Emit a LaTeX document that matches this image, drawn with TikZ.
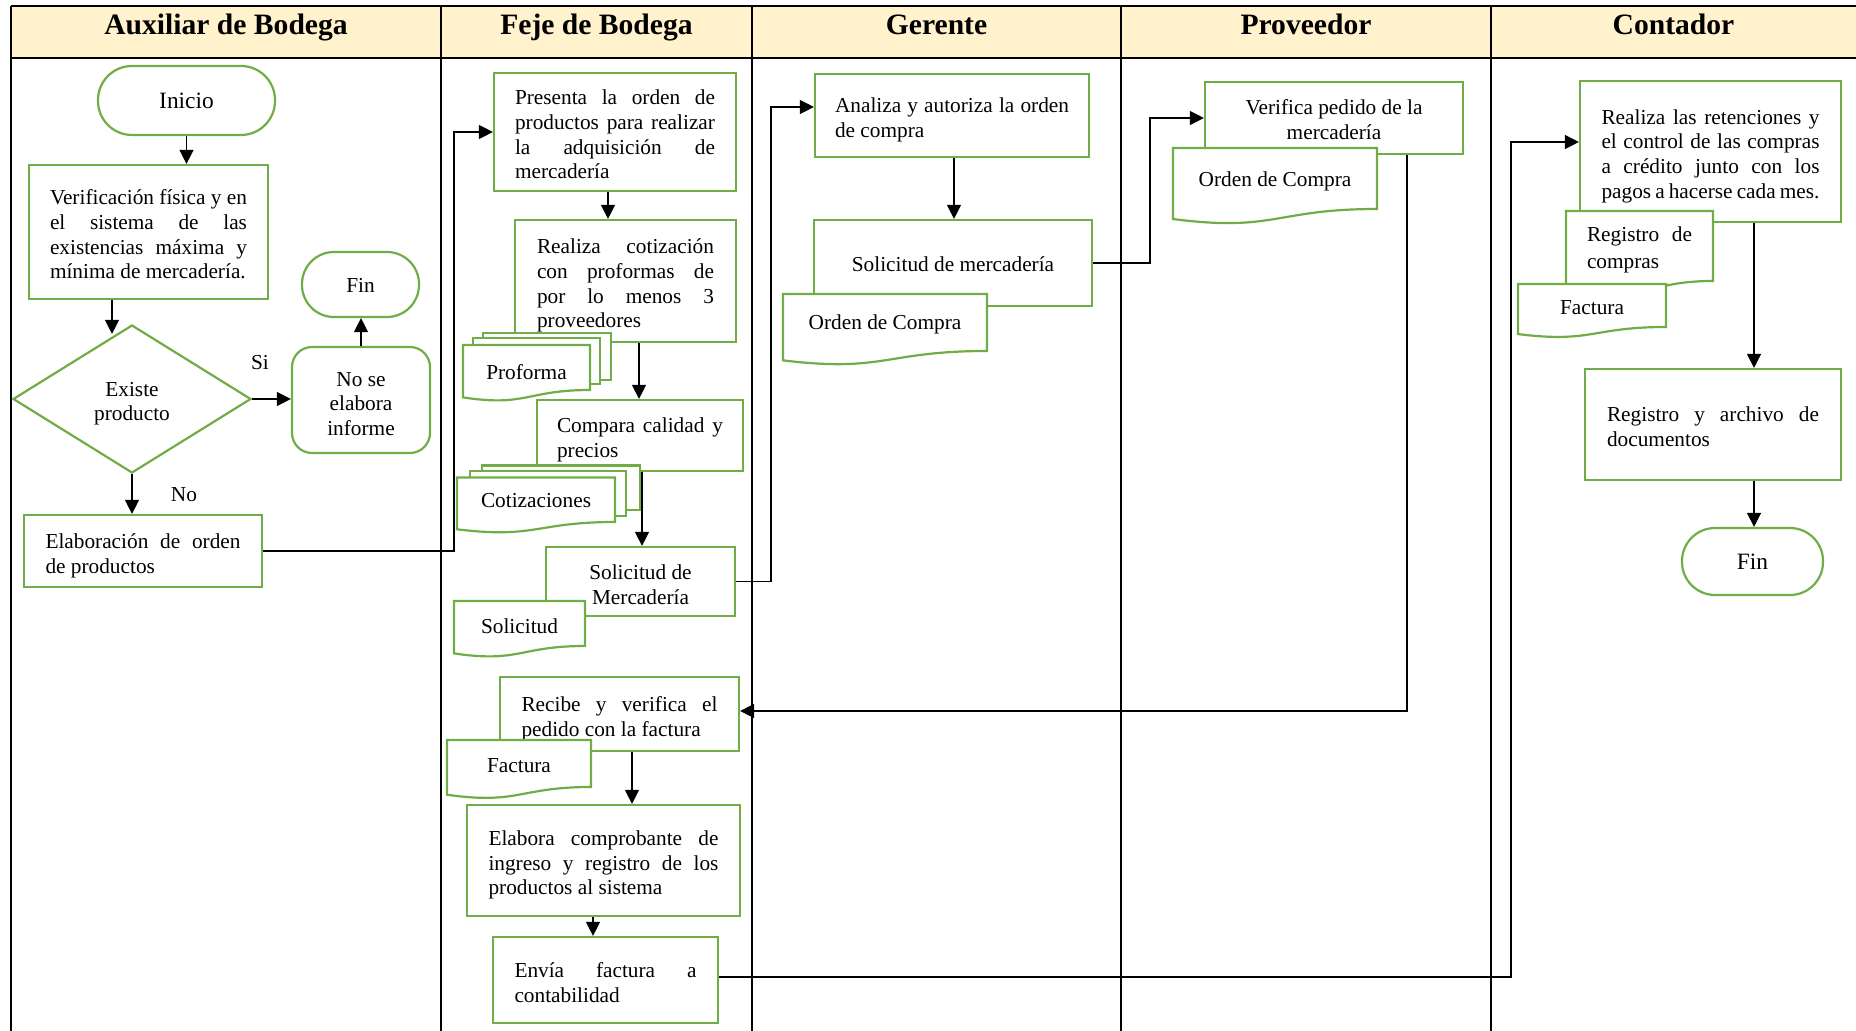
\documentclass[tikz,border=0pt]{standalone}
\usepackage{fontspec}
\setmainfont{Liberation Serif}
\usetikzlibrary{shapes.geometric,arrows.meta}
\definecolor{boxgreen}{HTML}{70AD47}
\definecolor{headfill}{HTML}{FFF2CC}
\newcommand{\bodyfont}{\fontsize{10.65pt}{12.35pt}\selectfont\tolerance=10000\hbadness=10000\hyphenpenalty=10000\exhyphenpenalty=10000}
\newcommand{\bigfont}{\fontsize{11.7pt}{13.5pt}\selectfont}
\newcommand{\headfont}{\fontsize{14.8pt}{17pt}\selectfont\bfseries}
\newcommand{\ws}{\rule[-2.1pt]{0pt}{12.35pt}}
\newcommand{\wpt}{\rule{0pt}{12pt}}
\newcommand{\wsb}{\rule[-2.3pt]{0pt}{2.3pt}}
\newcommand{\tstr}[1]{\rule{0pt}{#1}}
\newcommand{\docpath}[4]{%
  \pgfmathsetmacro{\dsH}{(#4-#2)/0.802}%
  \pgfmathsetmacro{\dsXm}{(#1+#3)/2}%
  \pgfmathsetmacro{\dsYc}{#2+1.1075*\dsH}%
  \pgfmathsetmacro{\dsYl}{#2+0.934*\dsH}%
  \draw[docst] (#1,#2) -- (#3,#2) -- (#3,#4) .. controls (\dsXm,#4) and (\dsXm,\dsYc) .. (#1,\dsYl) -- cycle;}
\tikzset{
  lane/.style={draw=black, line width=1pt},
  proc/.style={draw=boxgreen, line width=1.1pt, fill=white, rectangle, inner sep=0pt,
    font=\bodyfont, align=justify, execute at begin node=\wpt, execute at end node=\wsb},
  ctrbox/.style={draw=boxgreen, line width=1.1pt, fill=white, rectangle, inner sep=0pt,
    font=\bodyfont, align=center},
  onebox/.style={draw=boxgreen, line width=1.1pt, fill=white, rectangle, inner sep=0pt,
    font=\bodyfont, align=center, execute at begin node=\ws},
  docst/.style={draw=boxgreen, line width=1.1pt, fill=white},
  doctext/.style={font=\bodyfont, anchor=base, inner sep=0pt},
  conn/.style={draw=black, line width=0.65pt, -{Triangle[length=7pt,width=7pt]}},
  lanetitle/.style={font=\headfont, anchor=base, inner sep=0pt},
  lbl/.style={font=\bodyfont, anchor=base, inner sep=0pt}
}
\begin{document}
\begin{tikzpicture}[x=0.5pt,y=-0.5pt]
\useasboundingbox (0,0) rectangle (1856,1031);
% header and lanes
\fill[headfill] (11,6) rectangle (1856,58);
\draw[lane] (11,6) -- (1856,6);
\draw[lane] (11,58) -- (1856,58);
\draw[lane] (11,6) -- (11,1031);
\draw[lane] (441,6) -- (441,1031);
\draw[lane] (752,6) -- (752,1031);
\draw[lane] (1121,6) -- (1121,1031);
\draw[lane] (1491,6) -- (1491,1031);
\node[lanetitle] (t1) at (226,35) {Auxiliar de Bodega};
\node[lanetitle] (t2) at (596.5,35) {Feje de Bodega};
\node[lanetitle] (t3) at (936.5,35) {Gerente};
\node[lanetitle] (t4) at (1306,35) {Proveedor};
\node[lanetitle] (t5) at (1673.5,35) {Contador};

% Auxiliar de Bodega
\node[onebox, font=\bigfont, rounded corners=17pt, minimum width=88.5pt, minimum height=34.5pt] (inicio) at (186.5,100.5) {Inicio};
\node[proc, minimum width=119.5pt, minimum height=67pt, text width=98.5pt] (verif) at (148.5,232)
  {Verificación física y en\linebreak el sistema de las\linebreak existencias máxima y\linebreak mínima de mercadería.};
\node[ctrbox, diamond, aspect=1.6, minimum width=119pt, minimum height=74pt] (diam) at (132,399) {\tstr{11.7pt}Existe\\producto};
\node[ctrbox, rounded corners=10pt, minimum width=69pt, minimum height=53pt] (noinf) at (361,400) {\tstr{11pt}No se\\elabora\\informe};
\node[onebox, rounded corners=16pt, minimum width=58.5pt, minimum height=32.5pt] (fin1) at (360.5,284.5) {Fin};
\node[proc, minimum width=119pt, minimum height=36pt, text width=97.5pt] (elab) at (143,551)
  {Elaboración de orden\linebreak de productos};
\node[lbl] (si) at (260,370) {Si};
\node[lbl] (no) at (184,502) {No};

% Feje de Bodega
\node[proc, minimum width=121pt, minimum height=59pt, text width=100pt] (presenta) at (615,132)
  {Presenta la orden de\linebreak productos para realizar\linebreak la adquisición de\linebreak mercadería};
\node[proc, minimum width=110.5pt, minimum height=61pt, text width=88.5pt] (realiza) at (625.5,281)
  {Realiza cotización\linebreak con proformas de\linebreak por lo menos 3\linebreak proveedores};
\draw[docst] (483,333) rectangle (611,380);
\draw[docst] (473,338) rectangle (600,384);
\docpath{463}{345}{590}{390}
\node[doctext] (dProf) at (526.5,380) {Proforma};
\node[proc, minimum width=103pt, minimum height=35.5pt, text width=83pt] (compara) at (640,435.5)
  {Compara calidad y\linebreak precios};
\draw[docst] (482,465.5) rectangle (640,510);
\draw[docst] (470,471) rectangle (626,516);
\docpath{457}{477.5}{615}{522}
\node[doctext] (dCotiz) at (536,508) {Cotizaciones};
\node[ctrbox, minimum width=94.5pt, minimum height=34.5pt] (sdmA) at (640.5,581.5) {\tstr{10.6pt}Solicitud de\\Mercadería};
\docpath{454}{601}{585}{646}
\node[doctext] (dSolic) at (519.5,633) {Solicitud};
\node[proc, minimum width=119.5pt, minimum height=37pt, text width=98pt] (recibe) at (619.5,714)
  {Recibe y verifica el\linebreak pedido con la factura};
\docpath{447}{740}{591}{787}
\node[doctext] (dFactA) at (519,772) {Factura};
\node[proc, minimum width=136.5pt, minimum height=55.5pt, text width=115pt] (elabora) at (603.5,860.5)
  {Elabora comprobante de\linebreak ingreso y registro de los\linebreak productos al sistema};
\node[proc, minimum width=112.5pt, minimum height=43pt, text width=91pt] (envia) at (605.5,980)
  {Envía factura a\linebreak contabilidad};

% Gerente
\node[proc, minimum width=137pt, minimum height=41.5pt, text width=117pt] (analiza) at (952,115.5)
  {Analiza y autoriza la orden\linebreak de compra};
\node[onebox, minimum width=139pt, minimum height=43pt] (sdmB) at (953,263) {Solicitud de mercadería};
\docpath{783}{294}{987}{351}
\node[doctext] (dOdcA) at (885,330) {Orden de Compra};

% Proveedor
\node[ctrbox, minimum width=129pt, minimum height=36pt] (verifica) at (1334,118) {\tstr{9.1pt}Verifica pedido de la\\mercadería};
\docpath{1173}{148}{1377}{209}
\node[doctext] (dOdcB) at (1275,187) {Orden de Compra};

% Contador
\node[proc, minimum width=130.5pt, minimum height=70.5pt, text width=109pt] (realiza2) at (1710.5,151.5)
  {Realiza las retenciones y\linebreak el control de las compras\linebreak a crédito junto con los\linebreak pagos a hacerse cada mes.};
\docpath{1566}{211}{1713}{281}
\node[doctext, anchor=center, text width=52.5pt, align=justify, execute at begin node=\ws, execute at end node=\ws] (dRegc) at (1639.5,247.4)
  {Registro de\linebreak compras};
\docpath{1518}{284}{1666}{327}
\node[doctext] (dFactB) at (1592,315) {Factura};
\node[proc, minimum width=128pt, minimum height=55.5pt, text width=106pt] (registro) at (1713,424.5)
  {Registro y archivo de\linebreak documentos};
\node[onebox, font=\bigfont, rounded corners=16.5pt, minimum width=70.5pt, minimum height=33.5pt] (fin2) at (1752.5,561.5) {Fin};

% connectors
\draw[conn] (inicio.south) -- ([xshift=19pt]verif.north);
\draw[conn] ([xshift=-18.25pt]verif.south) -- ([xshift=-10pt,yshift=-5pt]diam.north);
\draw[conn] (diam.east) -- ([yshift=0.5pt]noinf.west);
\draw[conn] (noinf.north) -- ([xshift=0.25pt]fin1.south);
\draw[conn] (diam.south) -- ([xshift=-5.5pt]elab.north);
\draw[conn] (elab.east) -| ([xshift=-19.5pt]presenta.west) -- (presenta.west);
\draw[conn] ([xshift=-3.5pt]presenta.south) -- ([xshift=-8.75pt]realiza.north);
\draw[conn] ([xshift=6.75pt]realiza.south) -- ([xshift=-0.5pt]compara.north);
\draw[conn] ([xshift=1pt]compara.south) -- ([xshift=0.75pt]sdmA.north);
\draw[conn] (sdmA.east) -| ([xshift=-21.5pt,yshift=4.25pt]analiza.west) -- ([yshift=4.25pt]analiza.west);
\draw[conn] ([xshift=1pt]analiza.south) -- ([xshift=0.5pt]sdmB.north);
\draw[conn] (sdmB.east) -| ([xshift=-27pt]verifica.west) -- (verifica.west);
\draw[conn] ([xshift=36.5pt]verifica.south) |- ([yshift=1.5pt]recibe.east);
\draw[conn] ([xshift=6.25pt]recibe.south) -- ([xshift=14.25pt]elabora.north);
\draw[conn] ([xshift=-5.25pt]elabora.south) -- ([xshift=-6.25pt]envia.north);
\draw[conn] ([yshift=1.5pt]envia.east) -| ([xshift=-34pt,yshift=4.75pt]realiza2.west) -- ([yshift=4.75pt]realiza2.west);
\draw[conn] ([xshift=21.75pt]realiza2.south) -- ([xshift=20.5pt]registro.north);
\draw[conn] ([xshift=20.5pt]registro.south) -- ([xshift=0.75pt]fin2.north);
\end{tikzpicture}
\end{document}
